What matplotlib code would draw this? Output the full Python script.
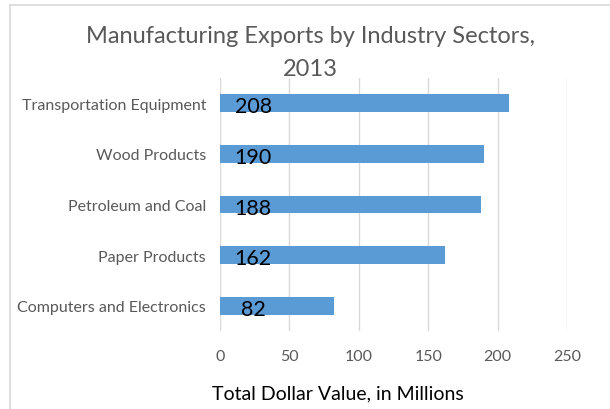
import matplotlib.pyplot as plt
from matplotlib.lines import Line2D

sectors = ['Computers and Electronics', 'Paper Products', 'Petroleum and Coal',
           'Wood Products', 'Transportation Equipment']
values = [82, 162, 188, 190, 208]
x_ticks = [0, 50, 100, 150, 200, 250]

plt.rcParams['font.family'] = ['Lato', 'DejaVu Sans']

W, H = 610, 410
fig = plt.figure(figsize=(W / 100, H / 100), dpi=100)
ax = fig.add_axes([220 / W, 1 - 332 / H, (567 - 220) / W, (332 - 79) / H])

gray = '#595959'
ax.barh(range(len(sectors)), values, height=0.35, color='#5B9BD5', zorder=2)
for i, v in enumerate(values):
    ax.text(24, i - 0.06, str(v), ha='center', va='center', fontsize=15.5,
            color='black', zorder=3)

ax.set_xlim(0, 250)
ax.set_ylim(-0.5, len(sectors) - 0.5)
ax.set_xticks(x_ticks)
ax.set_yticks(range(len(sectors)))
ax.set_yticklabels(sectors)
ax.tick_params(axis='both', length=0, colors=gray, labelsize=11.5)
ax.tick_params(axis='x', pad=13)
ax.tick_params(axis='y', pad=10)
ax.grid(axis='x', color='#D9D9D9', linewidth=1.0, zorder=0)
ax.set_axisbelow(True)
for s in ax.spines.values():
    s.set_visible(False)

fig.text(338 / W, 1 - 394 / H, 'Total Dollar Value, in Millions', ha='center',
         va='center', fontsize=14, color='black')

fig.text(310 / W, 1 - 53 / H, 'Manufacturing Exports by Industry Sectors,\n2013',
         ha='center', va='center', fontsize=17, color=gray, linespacing=1.75)

# chart border
fig.add_artist(Line2D([9.5 / W, 9.5 / W], [0, 1 - 6 / H], color='#D9D9D9',
                      linewidth=1.2, transform=fig.transFigure))
fig.add_artist(Line2D([9.5 / W, 1], [1 - 6 / H, 1 - 6 / H], color='#D9D9D9',
                      linewidth=1.2, transform=fig.transFigure))

fig.savefig('out.png', dpi=100)
